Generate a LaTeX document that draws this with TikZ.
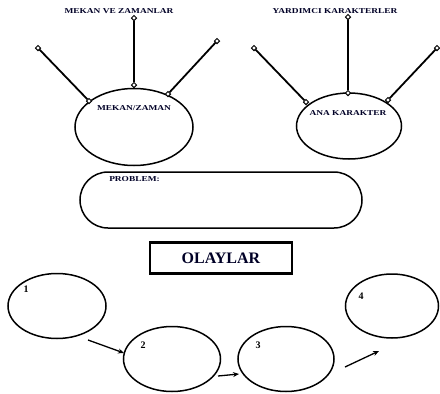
\documentclass[tikz,border=0pt]{standalone}
\usepackage{fontspec}
\setmainfont{Liberation Serif}
\usetikzlibrary{shapes.geometric,arrows.meta}
\begin{document}
\begin{tikzpicture}[x=1pt,y=-1pt,
  oval/.style={draw,ellipse,line width=1.5pt,inner sep=0pt},
  endmark/.style={draw,diamond,fill=white,line width=1pt,inner sep=0pt,minimum size=5.5pt},
  spoke/.style={line width=1.8pt},
  mainspoke/.style={line width=2.6pt},
  lbl/.style={font=\fontsize{7.5}{8}\selectfont\bfseries,text=black!85!blue,inner sep=0pt,xscale=1.25},
  num/.style={font=\fontsize{10}{11}\selectfont\bfseries,inner sep=0pt},
  flow/.style={line width=1.3pt,-{Stealth[length=6pt,width=5pt]}}]
\useasboundingbox (0,0) rectangle (440,394);
% left cluster
\node[oval,minimum width=118pt,minimum height=77pt] (mz) at (134,127) {};
\node[lbl] (mzt) at (134,108) {MEKAN/ZAMAN};
\node[lbl] (mvz) at (119,11) {MEKAN VE ZAMANLAR};
\node[endmark] (a1) at (134,18) {};
\node[endmark] (a2) at (134,85) {};
\node[endmark] (b1) at (38,48) {};
\node[endmark] (b2) at (89,101) {};
\node[endmark] (c1) at (217,41) {};
\node[endmark] (c2) at (168,94) {};
\draw[mainspoke] (a1) -- (a2);
\draw[spoke] (b1) -- (b2);
\draw[spoke] (c1) -- (c2);
% right cluster
\node[oval,minimum width=105pt,minimum height=66pt] (ak) at (349,126) {};
\node[lbl] (akt) at (348,113) {ANA KARAKTER};
\node[lbl] (yk) at (335,11) {YARDIMCI KARAKTERLER};
\node[endmark] (d1) at (348,17) {};
\node[endmark] (d2) at (348,93) {};
\node[endmark] (e1) at (254,48) {};
\node[endmark] (e2) at (306,102) {};
\node[endmark] (f1) at (437,48) {};
\node[endmark] (f2) at (388,100) {};
\draw[mainspoke] (d1) -- (d2);
\draw[spoke] (e1) -- (e2);
\draw[spoke] (f1) -- (f2);
% problem
\node[draw,line width=1.5pt,rounded corners=28pt,minimum width=282pt,minimum height=56pt] (pb) at (221,200) {};
\node[lbl,anchor=west] (pbt) at (109,179) {PROBLEM:};
% olaylar
\node[draw,line width=2.2pt,minimum width=142pt,minimum height=31pt,font=\fontsize{16}{18}\selectfont\bfseries,text=black!85!blue] (ol) at (221,258) {OLAYLAR};
% events
\node[oval,minimum width=98pt,minimum height=65pt] (o1) at (57,306) {};
\node[oval,minimum width=97pt,minimum height=65pt] (o2) at (172,359) {};
\node[oval,minimum width=96pt,minimum height=65pt] (o3) at (286,359) {};
\node[oval,minimum width=93pt,minimum height=64pt] (o4) at (392,306) {};
\node[num] (n1) at (26,289) {1};
\node[num] (n2) at (143,345) {2};
\node[num] (n3) at (258,345) {3};
\node[num] (n4) at (361,296) {4};
\coordinate (p1) at (88,340);
\coordinate (q1) at (124,353);
\coordinate (p2) at (218,376);
\coordinate (q2) at (239,374);
\coordinate (p3) at (345,367);
\coordinate (q3) at (379,351);
\draw[flow] (p1) -- (q1);
\draw[flow] (p2) -- (q2);
\draw[flow] (p3) -- (q3);
\end{tikzpicture}
\end{document}
